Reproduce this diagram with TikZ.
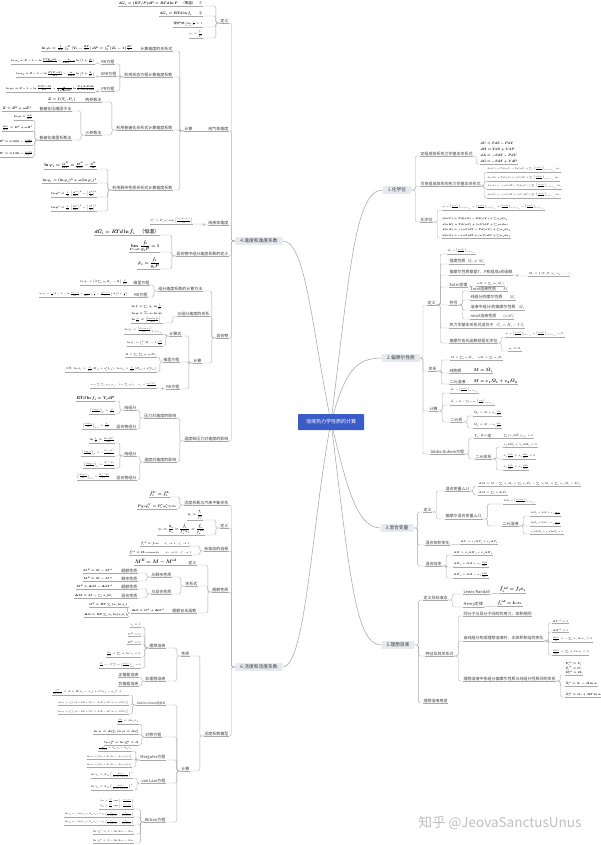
\RequirePackage{fix-cm}
\documentclass[tikz,border=0pt]{standalone}
\usepackage{amsmath}
\usepackage[no-math]{fontspec}
\setmainfont{Noto Sans CJK SC}
\usetikzlibrary{backgrounds}
\definecolor{rootblue}{HTML}{3B5CC6}
\definecolor{topicfill}{HTML}{E7E9F1}
\definecolor{linkgray}{HTML}{A8A8A8}
\definecolor{txtgray}{HTML}{3A3A3A}

\begin{document}
\begin{tikzpicture}[x=2pt,y=-2pt,
  link/.style={draw=linkgray,line width=0.8pt,rounded corners=3pt},
  branch/.style={draw=linkgray,line width=1.1pt},
  root/.style={fill=rootblue,text=white,rounded corners=1.5pt,minimum width=132pt,minimum height=32pt,font=\fontsize{10}{12}\selectfont},
  topic/.style={fill=topicfill,text=txtgray,rounded corners=1.5pt,inner xsep=10pt,inner ysep=3.5pt,font=\fontsize{9.5}{11}\selectfont},
  lbl/.style={inner sep=1pt,text=txtgray,font=\fontsize{8}{9.5}\selectfont,
    append after command={(\tikzlastnode.south west) edge[link] (\tikzlastnode.south east)}},
  rt/.style={lbl,anchor=south west},
  lt/.style={lbl,anchor=south east},
  f4/.style={font=\fontsize{4.5}{5.5}\selectfont,text=black},
  f4b/.style={font=\fontsize{5}{6}\selectfont\boldmath,text=black},
  f5/.style={font=\fontsize{5.5}{6.5}\selectfont,text=black},
  f5b/.style={font=\fontsize{5.5}{6.5}\selectfont\boldmath,text=black},
  fs/.style={font=\fontsize{7}{8.5}\selectfont\boldmath,text=black},
  fb/.style={font=\fontsize{8.5}{10}\selectfont\boldmath,text=black},
  fB/.style={font=\fontsize{10}{12}\selectfont\boldmath,text=black}]
\useasboundingbox (0,0) rectangle (600,845);

% root and main topics
\node[root] (ctr) at (331,422) {溶液热力学性质的计算};
\node[topic] (n1) at (397,190) {1.化学位};
\node[topic] (n2) at (401,358) {2.偏摩尔性质};
\node[topic] (n3) at (397,528) {3.混合变量};
\node[topic] (n5) at (398,645) {5.理想溶液};
\node[topic] (n4) at (259,241) {4.逸度和逸度系数};
\node[topic] (n6) at (259,667) {6.活度和活度系数};

\begin{scope}[on background layer]
\fill[white] (0,0) rectangle (600,845);
\draw[branch] (ctr.center) .. controls (350,270) and (355,190) .. (n1.west);
\draw[branch] (ctr.center) .. controls (345,372) and (355,358) .. (n2.west);
\draw[branch] (ctr.center) .. controls (345,478) and (355,528) .. (n3.west);
\draw[branch] (ctr.center) .. controls (350,575) and (355,645) .. (n5.west);
\draw[branch] (ctr.center) .. controls (312,330) and (306,241) .. (n4.east);
\draw[branch] (ctr.center) .. controls (312,520) and (306,667) .. (n6.east);
\end{scope}

% 1.化学位
\node[rt] (c1) at (420,156) {定组成体系热力学基本关系式};
\node[rt,align=left,font=\fontsize{6.5}{12}\selectfont\boldmath,text=black] (c1a) at (480,164) {$dU=TdS-PdV$\\$dH=TdS+VdP$\\$dA=-SdT-PdV$\\$dG=-SdT+VdP$};
\node[rt] (c2) at (420,186) {可变组成体系的热力学基本关系式};
\node[rt,f4] (c2a) at (487,172) {$d(nU)=Td(nS)-Pd(nV)+\sum_i\left(\frac{\partial(nU)}{\partial n_i}\right)_{nS,nV,n_{j\neq i}}dn_i$};
\node[rt,f4] (c2b) at (487,181) {$d(nH)=Td(nS)+(nV)dP+\sum_i\left(\frac{\partial(nH)}{\partial n_i}\right)_{nS,P,n_{j\neq i}}dn_i$};
\node[rt,f4] (c2c) at (487,189) {$d(nA)=-(nS)dT-Pd(nV)+\sum_i\left(\frac{\partial(nA)}{\partial n_i}\right)_{T,nV,n_{j\neq i}}dn_i$};
\node[rt,f4] (c2d) at (487,198) {$d(nG)=-(nS)dT+(nV)dP+\sum_i\left(\frac{\partial(nG)}{\partial n_i}\right)_{T,P,n_{j\neq i}}dn_i$};
\node[rt] (c3) at (420,222) {化学位};
\node[rt,f4] (c3a) at (442,210) {$\mu_i=\left(\frac{\partial(nU)}{\partial n_i}\right)_{nS,nV,n_{j\neq i}}=\left(\frac{\partial(nH)}{\partial n_i}\right)_{nS,P,n_{j\neq i}}=\left(\frac{\partial(nA)}{\partial n_i}\right)_{T,nV,n_{j\neq i}}=\left(\frac{\partial(nG)}{\partial n_i}\right)_{T,P,n_{j\neq i}}$};
\node[rt,align=left,font=\fontsize{5}{11.5}\selectfont\boldmath,text=black] (c3b) at (442,238) {$d(nU)=Td(nS)-Pd(nV)+\sum\mu_idn_i$\\$d(nH)=Td(nS)+(nV)dP+\sum\mu_idn_i$\\$d(nA)=-(nS)dT-Pd(nV)+\sum\mu_idn_i$\\$d(nG)=-(nS)dT+(nV)dP+\sum\mu_idn_i$};

% 2.偏摩尔性质
\node[rt] (p1) at (427,305) {定义};
\node[rt,f4] (p1a) at (447,254) {$\bar M_i=\left(\frac{\partial(nM)}{\partial n_i}\right)_{T,P,n_{j\neq i}}$};
\node[rt] (p1b) at (449,264) {强度性质\ \ $\bar M_i\neq M_i$};
\node[rt] (p1c) at (449,275) {偏摩尔性质都是T，P和组成x的函数};
\node[rt,f5] (p1c1) at (528,276) {$\bar M_i=f(T,P,x_1,x_2,\cdots)$};
\node[rt] (p1d) at (449,287) {Euler定理};
\node[rt,f5] (p1d1) at (476,286) {$nM=\sum_i(n_i\bar M_i)$};
\node[rt] (p1e) at (449,305) {符号};
\node[rt] (p1e1) at (470,291) {1mol溶液性质\hspace{14pt}$M$};
\node[rt] (p1e2) at (470,300) {纯组分的摩尔性质\hspace{14pt}$M_i$};
\node[rt] (p1e3) at (470,310) {溶液中组分i的偏摩尔性质\hspace{6pt}$\bar M_i$};
\node[rt] (p1e4) at (470,319) {nmol溶液性质\hspace{14pt}$(nM)$};
\node[rt] (p1f) at (449,328) {热力学基本关系式适合于\hspace{6pt}$\bar G_i=\bar H_i-T\bar S_i$};
\node[rt] (p1g) at (449,343) {偏摩尔吉氏函数就是化学位};
\node[rt,f4] (p1g1) at (505,337) {$\mu_i=\left(\frac{\partial(nG)}{\partial n_i}\right)_{T,P,n_{j\neq i}}=\left(\frac{\partial(nH)}{\partial n_i}\right)_{nS,P,n_{j\neq i}}=\bar G_i$};
\node[rt,f5] (p1g2) at (508,351) {$\mu_i\equiv\bar G_i$};
\node[rt] (p2) at (428,371) {关系};
\node[rt,f5] (p2a) at (450,360) {$M=\sum_i x_i\bar M_i,\quad nM=\sum_i n_i\bar M_i$};
\node[rt] (p2b) at (449,373) {纯物质};
\node[rt,fb] (p2b1) at (473,373) {$M=\bar M_i$};
\node[rt] (p2c) at (449,384) {二元溶液};
\node[rt,fb] (p2c1) at (473,384) {$M=x_1\bar M_1+x_2\bar M_2$};
\node[rt] (p3) at (429,411) {计算};
\node[rt,f4] (p3a) at (450,393) {$\bar M_i=\left(\frac{\partial(nM)}{\partial n_i}\right)_{T,P,n_{j\neq i}}$};
\node[rt,f4] (p3b) at (450,405) {$\bar M_i=M-\sum_{k\neq i}x_k\left(\frac{\partial M}{\partial x_k}\right)_{T,P,x_{j\neq i,k}}$};
\node[rt] (p3c) at (450,422) {二元系};
\node[rt,f5] (p3c1) at (473,416) {$\bar M_1=M+x_2\frac{dM}{dx_1}$};
\node[rt,f5] (p3c2) at (473,428) {$\bar M_2=M-x_1\frac{dM}{dx_1}$};
\node[rt] (p4) at (430,454) {Gibbs-Duhem方程};
\node[rt] (p4a) at (474,438) {T、P一定};
\node[rt,f5] (p4a1) at (503,438) {$\sum_i(x_id\bar M_i)_{T,P}=0$};
\node[rt] (p4b) at (475,459) {二元体系};
\node[rt,f5] (p4b1) at (503,447) {$x_1d\bar M_1+x_2d\bar M_2=0$};
\node[rt,f5] (p4b2) at (503,459) {$x_1\frac{d\bar M_1}{dx_1}+x_2\frac{d\bar M_2}{dx_1}=0$};
\node[rt,f5] (p4b3) at (503,470) {$x_1\frac{d\bar M_1}{dx_1}=x_2\frac{d\bar M_2}{dx_2}$};

% 3.混合变量
\node[rt] (m1) at (423,512) {定义};
\node[rt] (m1a) at (445,491) {混合变量$\Delta M$};
\node[rt,f5] (m1a1) at (478,486) {$\Delta M=M-\sum_ix_iM_i=\sum_ix_i\bar M_i-\sum_ix_iM_i=\sum_ix_i(\bar M_i-M_i)$};
\node[rt,f5] (m1a2) at (478,495) {$\Delta M=\sum_ix_i\Delta\bar M_i$};
\node[rt] (m1b) at (445,519) {偏摩尔混合变量$\Delta\bar M_i$};
\node[rt,f4] (m1b1) at (503,504) {$\Delta\bar M_i=\left(\frac{\partial(n\Delta M)}{\partial n_i}\right)_{T,P,n_{j\neq i}}$};
\node[rt] (m1b2) at (502,526) {二元溶液};
\node[rt,f4] (m1b2a) at (530,516) {$\Delta\bar M_1=\Delta M+x_2\frac{d\Delta M}{dx_1}$};
\node[rt,f4] (m1b2b) at (530,526) {$\Delta\bar M_2=\Delta M-x_1\frac{d\Delta M}{dx_1}$};
\node[rt,f4] (m1b2c) at (530,534) {$x_1d\Delta\bar M_1+x_2d\Delta\bar M_2=0$};
\node[rt] (m2) at (425,545) {混合体积变化};
\node[rt,f5] (m2a) at (460,544) {$\Delta V=x_1\Delta\bar V_1+x_2\Delta\bar V_2$};
\node[rt] (m3) at (425,566) {混合焓变};
\node[rt,f5] (m3a) at (453,555) {$\Delta H=x_1\Delta\bar H_1+x_2\Delta\bar H_2$};
\node[rt,f5] (m3b) at (453,567) {$\Delta\bar H_1=\Delta H+x_2\frac{d\Delta H}{dx_1}$};
\node[rt,f5] (m3c) at (453,578) {$\Delta\bar H_2=\Delta H-x_1\frac{d\Delta H}{dx_1}$};

% 5.理想溶液
\node[rt] (l1) at (423,600) {定义及标准态};
\node[rt] (l1a) at (463,594) {Lewis-Randall};
\node[rt,fB] (l1a1) at (499,593) {$\hat f_i^{\,id}=f_ix_i$};
\node[rt] (l1b) at (463,607) {Henry定律};
\node[rt,fb] (l1b1) at (497,606) {$\hat f_i^{\,id}=k_ix_i$};
\node[rt] (l2) at (425,656) {特征及其关系式};
\node[rt] (l2a) at (463,616) {同分子与异分子间的作用力、体积相同};
\node[rt] (l2b) at (463,641) {由纯组分构成理想溶液时，无体积和焓的变化};
\node[rt,f5] (l2b1) at (552,623) {$\Delta V^{id}=0$};
\node[rt,f5] (l2b2) at (552,632) {$\Delta H^{id}=0$};
\node[rt,f5] (l2b3) at (552,642) {$\frac{\Delta S^{id}}{R}=-\sum_ix_i\ln x_i>0$};
\node[rt,f5] (l2b4) at (552,655) {$\frac{\Delta G^{id}}{RT}=\sum_ix_i\ln x_i<0$};
\node[rt] (l2c) at (463,681) {理想溶液中各组分偏摩尔性质与纯组分性质间的关系};
\node[rt,align=left,font=\fontsize{5.5}{8.5}\selectfont\boldmath,text=black] (l2c1) at (565,675) {$\bar V_i^{id}=V_i$\\$\bar U_i^{id}=U_i$\\$\bar H_i^{id}=H_i$};
\node[rt,f5b] (l2c2) at (565,686) {$\bar S_i^{id}=S_i-R\ln x_i$};
\node[rt,f5b] (l2c3) at (565,697) {$\bar G_i^{id}=G_i+RT\ln x_i$};
\node[rt] (l3) at (423,703) {理想溶液用途};

% 4.逸度和逸度系数
\node[lt] (y1) at (229,23) {定义};
\node[lt,fs] (y1a) at (203,6) {$dG_i=(RT/P)dP=RTd\ln P$\quad（等温）\quad ①};
\node[lt,fs] (y1b) at (203,16) {$dG_i=RTd\ln f_i$\qquad ②};
\node[lt,f5] (y1c) at (203,27) {理想气体\ $\lim\limits_{P\to0}\frac{f_i}{P}=1$};
\node[lt,f5] (y1d) at (203,38) {$\varphi_i=\dfrac{f_i}{P}$};
\node[lt] (y2) at (229,131) {纯气体逸度};
\node[lt] (y2a) at (193,131) {计算};
\node[lt] (y2b) at (173,51) {计算逸度的关系式};
\node[lt,fs] (y2b1) at (133,51) {$\ln\varphi_i=\frac{1}{RT}\int_0^P\left(V_i-\frac{RT}{P}\right)dP=\int_0^P(Z_i-1)\frac{dP}{P}$};
\node[lt] (y2c) at (173,77) {利用状态方程计算逸度系数};
\node[lt] (y2c1) at (115,64) {RK方程};
\node[lt,f4b] (y2c1a) at (95,64) {$\ln\varphi_i=Z-1-\ln\frac{P(V-b)}{RT}-\frac{a}{bRT^{1.5}}\ln\left(1+\frac{b}{V}\right)$};
\node[lt] (y2c2) at (117,76) {SRK方程};
\node[lt,f4b] (y2c2a) at (95,77) {$\ln\varphi_i=Z-1-\ln\frac{P(V-b)}{RT}-\frac{a}{bRT}\ln\left(1+\frac{b}{V}\right)$};
\node[lt] (y2c3) at (115,91) {PR方程};
\node[lt,f4b] (y2c3a) at (95,92) {$\ln\varphi_i=Z-1-\ln\frac{P(V-b)}{RT}-\frac{a}{2\sqrt{2}bRT}\ln\frac{V+2.414b}{V-0.414b}$};
\node[lt] (y2d) at (173,130) {利用普遍化关系式计算逸度系数};
\node[lt] (y2d1) at (102,102) {两参数法};
\node[lt,fs] (y2d1a) at (76,102) {$Z=f(T_r,P_r)$};
\node[lt] (y2d2) at (102,135) {三参数法};
\node[lt] (y2d2a) at (72,111) {普遍化压缩因子法};
\node[lt,fs] (y2d2a1) at (32,111) {$Z=Z^0+\omega Z^1$};
\node[lt] (y2d2b) at (72,140) {普遍化维里系数法};
\node[lt,f5b] (y2d2b1) at (33,120) {$\ln\varphi=\frac{BP}{RT}$};
\node[lt,f5b] (y2d2b2) at (33,131) {$\frac{BP_c}{RT_c}=B^0+\omega B^1$};
\node[lt,f5b] (y2d2b3) at (33,145) {$B^0=0.083-\frac{0.422}{T_r^{1.6}}$};
\node[lt,f5b] (y2d2b4) at (33,157) {$B^1=0.139-\frac{0.172}{T_r^{4.2}}$};
\node[lt] (y2e) at (173,190) {利用剩余性质关系式计算逸度系数};
\node[lt,fb] (y2e1) at (97,169) {$\ln\varphi_i=\frac{G^R}{RT}=\frac{H^R}{RT}-\frac{S^R}{R}$};
\node[lt,fs] (y2e2) at (97,183) {$\ln\varphi_i=(\ln\varphi_i)^0+\omega(\ln\varphi_i)^1$};
\node[lt,f5b] (y2e3) at (97,197) {$\ln\varphi^0=\frac{1}{T_r}\left[\frac{H^R}{RT_c}\right]^0-\left[\frac{S^R}{R}\right]^0$};
\node[lt,f5b] (y2e4) at (97,211) {$\ln\varphi^1=\frac{1}{T_r}\left[\frac{H^R}{RT_c}\right]^1-\left[\frac{S^R}{R}\right]^1$};
\node[lt] (y3) at (229,225) {纯液体逸度};
\node[lt,f5] (y3a) at (193,224) {$f_i^L=P_i^s\varphi_i^s\exp\left[\frac{V_i^L(P-P_i^s)}{RT}\right]$};
\node[lt] (y4) at (229,256) {混合物中组分逸度系数的定义};
\node[lt,fB] (y4a) at (160,235) {$d\bar G_i=RTd\ln\hat f_i$\quad（恒温）};
\node[lt,fb] (y4b) at (160,252) {$\lim\limits_{P\to0}\dfrac{\hat f_i}{y_iP}=1$};
\node[lt,fb] (y4c) at (160,269) {$\hat\varphi_i=\dfrac{\hat f_i}{y_iP}$};
\node[lt] (y5) at (229,338) {混合物};
\node[lt] (y5a) at (203,291) {组分逸度系数的计算方法};
\node[lt] (y5a1) at (150,285) {维里方程};
\node[lt,f5] (y5a1a) at (128,285) {$\ln\hat\varphi_i=\left(2\sum_jy_jB_{ij}-B\right)\frac{P}{RT}$};
\node[lt] (y5a2) at (148,297) {RK方程};
\node[lt,f4] (y5a2a) at (128,297) {$\ln\hat\varphi_i=\frac{b_i}{b}(Z-1)-\ln\frac{P(V-b)}{RT}+\frac{a}{bRT^{1.5}}\left(\frac{b_i}{b}-\frac{2\sum_jy_ja_{ij}}{a}\right)\ln\left(1+\frac{b}{V}\right)$};
\node[lt] (y5b) at (210,316) {与组分逸度的关系};
\node[lt,align=left,font=\fontsize{5.5}{13}\selectfont\boldmath,text=black] (y5b1) at (163,323) {$\ln f=\sum_ix_i\ln\frac{\hat f_i}{x_i}$\\$\ln\varphi=\sum_ix_i\ln\hat\varphi_i$\\$\ln\frac{\hat f_i}{x_i}=\left[\frac{\partial(n\ln f)}{\partial n_i}\right]$};
\node[lt] (y5c) at (202,363) {计算};
\node[lt] (y5c1) at (182,336) {计算式};
\node[lt,f5] (y5c1a) at (163,334) {$\ln\hat\varphi_i=\left[\frac{\partial(n\ln\varphi)}{\partial n_i}\right]_{T,P,n_{j\neq i}}$};
\node[lt,f5] (y5c1b) at (163,346) {$\ln\hat\varphi_i=\int_0^P(\bar Z_i-1)\frac{dP}{P}$};
\node[lt] (y5c2) at (180,362) {维里方程};
\node[lt,f5] (y5c2a) at (157,357) {$B=\sum_i\sum_jy_iy_jB_{ij}$};
\node[lt,f5] (y5c2b) at (157,372) {二元：$\ln\hat\varphi_1=\frac{P}{RT}(B_{11}+y_2^2\delta_{12})$，$\ln\hat\varphi_2=\frac{P}{RT}(B_{22}+y_1^2\delta_{12})$};
\node[lt] (y5c3) at (180,389) {RK方程};
\node[lt,f4] (y5c3a) at (157,388) {$a=\sum_i\sum_jy_iy_ja_{ij},\quad b=\sum_iy_ib_i,\quad a_{ij}=\frac{\Omega_aR^2T_{cij}^{2.5}}{P_{cij}}$};
\node[lt] (y6) at (229,441) {温度和压力对逸度的影响};
\node[lt] (y6a) at (177,418) {压力对逸度的影响};
\node[lt] (y6a1) at (137,410) {纯组分};
\node[lt,fb] (y6a1a) at (115,401) {$RTd\ln f_i=V_idP$};
\node[lt,f5] (y6a1b) at (115,414) {$\left(\frac{\partial\ln f_i}{\partial P}\right)_T=\frac{V_i}{RT}$};
\node[lt] (y6a2) at (137,429) {混合物组分};
\node[lt,f5] (y6a2a) at (110,429) {$\left(\frac{\partial\ln\hat f_i}{\partial P}\right)_{T,x}=\frac{\bar V_i}{RT}$};
\node[lt] (y6b) at (177,462) {温度对逸度的影响};
\node[lt] (y6b1) at (137,456) {纯组分};
\node[lt,f5b] (y6b1a) at (115,443) {$\ln\frac{f_i}{P}=\frac{G_i-G_i^{ig}}{RT}$};
\node[lt,f5] (y6b1b) at (115,456) {$\left(\frac{\partial\ln f_i}{\partial T}\right)_P=-\frac{H_i-H_i^{ig}}{RT^2}$};
\node[lt,f5] (y6b1c) at (115,468) {$\left(\frac{\partial\ln\varphi_i}{\partial T}\right)_P=\frac{H_i^{ig}-H_i}{RT^2}$};
\node[lt] (y6b2) at (137,480) {混合物组分};
\node[lt,f5] (y6b2a) at (110,480) {$\left(\frac{\partial\ln\hat f_i}{\partial T}\right)_{P,x}=\frac{H_i^{ig}-\bar H_i}{RT^2}$};

% 6.活度和活度系数
\node[lt] (a1) at (229,505) {活度系数与汽液平衡关系};
\node[lt,fb] (a1a) at (170,497) {$\hat f_i^V=\hat f_i^L$};
\node[lt,fs] (a1b) at (177,509) {$Py_i\hat\varphi_i^V=P_i^s\varphi_i^s\gamma_ix_i$};
\node[lt] (a2) at (229,528) {定义};
\node[lt,f5b] (a2a) at (203,520) {$\hat a_i=\dfrac{\hat f_i}{f_i^0}$};
\node[lt,fs] (a2b) at (205,535) {$\gamma_i=\dfrac{\hat a_i}{x_i}=\dfrac{\hat f_i}{f_i^0x_i}=\dfrac{\hat f_i}{\hat f_i^{\,id}}$};
\node[lt] (a3) at (229,551) {标准态的选择};
\node[lt,f5] (a3a) at (190,546) {$x_i\to1,\ \gamma_i\to1$};
\node[lt,f5b] (a3a1) at (160,546) {$\hat f_i^{\,id}=f_ix_i$};
\node[lt,f5] (a3b) at (192,555) {$x_i\to0,\ \gamma_i^*\to1$};
\node[lt,f5b] (a3b1) at (160,555) {$\hat f_i^{\,id}=H_{i,\mathrm{solvent}}x_i$};
\node[lt] (a4) at (229,592) {超额性质};
\node[lt] (a4a) at (197,565) {定义};
\node[lt,fB] (a4a1) at (177,565) {$M^E=M-M^{id}$};
\node[lt] (a4b) at (198,586) {关系式};
\node[lt] (a4b1) at (172,577) {与剩余性质};
\node[lt] (a4b1a) at (138,573) {超额性质};
\node[lt,f5b] (a4b1a1) at (113,573) {$M^E=M-M^{id}$};
\node[lt] (a4b1b) at (138,581) {剩余性质};
\node[lt,f5b] (a4b1b1) at (113,581) {$M^R=M-M^{ig}$};
\node[lt] (a4b2) at (172,594) {与混合性质};
\node[lt] (a4b2a) at (138,589) {超额性质};
\node[lt,f5b] (a4b2a1) at (113,589) {$M^E=\Delta M-\Delta M^{id}$};
\node[lt] (a4b2b) at (138,598) {混合性质};
\node[lt,f5b] (a4b2b1) at (113,598) {$\Delta M=M-\sum_ix_iM_i$};
\node[lt] (a4c) at (197,613) {超额吉氏函数};
\node[lt,f5b] (a4c1) at (165,613) {$\Delta G=G^E+\Delta G^{id}$};
\node[lt,f5b] (a4c1a) at (128,607) {$G^E=RT\sum_i(x_i\ln\gamma_i)$};
\node[lt,f5b] (a4c1b) at (128,617) {$\Delta G=RT\sum_ix_i\ln(\gamma_ix_i)$};
\node[lt] (a5) at (229,736) {活度系数模型};
\node[lt] (a5a) at (190,656) {性质};
\node[lt] (a5a1) at (166,648) {理想溶液};
\node[lt,f5] (a5a1a) at (141,627) {$\gamma_i=1$};
\node[lt,f5] (a5a1b) at (141,636) {$V^E=0$};
\node[lt,f5] (a5a1c) at (141,644) {$H^E=0$};
\node[lt,f5] (a5a1d) at (141,657) {$\frac{G^E}{RT}=\sum_ix_i\ln\gamma_i=0$};
\node[lt,f4] (a5a1e) at (141,668) {$\frac{H^E}{RT}=-T\sum_ix_i\left(\frac{\partial\ln\gamma_i}{\partial T}\right)_{P,x}=0$};
\node[lt] (a5a2) at (166,681) {非理想溶液};
\node[lt] (a5a2a) at (139,677) {正偏差溶液};
\node[lt] (a5a2b) at (139,686) {负偏差溶液};
\node[lt] (a5b) at (190,771) {计算};
\node[lt,font=\fontsize{6}{7}\selectfont] (a5b1) at (166,705) {Redlich-Kister经验式};
\node[lt,f5] (a5b1a) at (129,695) {$\frac{G^E}{RTx_1x_2}=A+B(x_1-x_2)+C(x_1-x_2)^2+\cdots$};
\node[lt,f4] (a5b1b) at (129,705) {$\ln\gamma_1=x_2^2\left[(A+3B+5C)-4(B+4C)x_2+12Cx_2^2\right]$};
\node[lt,f4] (a5b1c) at (129,714) {$\ln\gamma_2=x_1^2\left[(A-3B+5C)+4(B-4C)x_1+12Cx_1^2\right]$};
\node[lt] (a5b2) at (162,737) {对称方程};
\node[lt,f5] (a5b2a) at (139,724) {$\frac{G^E}{RT}=Ax_1x_2$};
\node[lt,f5b] (a5b2b) at (139,734) {$\ln\gamma_1=Ax_2^2,\ \ln\gamma_2=Ax_1^2$};
\node[lt,f5b] (a5b2c) at (139,745) {$\ln\gamma_1^\infty=\ln\gamma_2^\infty=A$};
\node[lt] (a5b3) at (166,760) {Margules方程};
\node[lt,f4] (a5b3a) at (132,751) {$\frac{G^E}{x_1x_2RT}=A_{21}x_1+A_{12}x_2$};
\node[lt,f4] (a5b3b) at (132,759) {$\ln\gamma_1=[A_{12}+2(A_{21}-A_{12})x_1]x_2^2$};
\node[lt,f4] (a5b3c) at (132,767) {$\ln\gamma_2=[A_{21}+2(A_{12}-A_{21})x_2]x_1^2$};
\node[lt] (a5b4) at (166,783) {van Laar方程};
\node[lt,f5] (a5b4a) at (133,778) {$\ln\gamma_1=A_{12}\left(\frac{A_{21}x_2}{A_{12}x_1+A_{21}x_2}\right)^2$};
\node[lt,f5] (a5b4b) at (133,790) {$\ln\gamma_2=A_{21}\left(\frac{A_{12}x_1}{A_{12}x_1+A_{21}x_2}\right)^2$};
\node[lt] (a5b5) at (166,822) {Wilson方程};
\node[lt,align=left,font=\fontsize{4.5}{7}\selectfont,text=black] (a5b5a) at (134,809) {$\Lambda_{12}=\frac{V_2^L}{V_1^L}\exp\left(-\frac{\lambda_{12}-\lambda_{11}}{RT}\right)$\\$\Lambda_{21}=\frac{V_1^L}{V_2^L}\exp\left(-\frac{\lambda_{21}-\lambda_{22}}{RT}\right)$};
\node[lt,f4] (a5b5b) at (134,817) {$\ln\gamma_1=-\ln(x_1+\Lambda_{12}x_2)+x_2\left(\frac{\Lambda_{12}}{x_1+\Lambda_{12}x_2}-\frac{\Lambda_{21}}{x_2+\Lambda_{21}x_1}\right)$};
\node[lt,f4] (a5b5c) at (134,825) {$\ln\gamma_2=-\ln(x_2+\Lambda_{21}x_1)-x_1\left(\frac{\Lambda_{12}}{x_1+\Lambda_{12}x_2}-\frac{\Lambda_{21}}{x_2+\Lambda_{21}x_1}\right)$};
\node[lt,f5] (a5b5d) at (134,834) {$\ln\gamma_1^\infty=1-\ln\Lambda_{12}-\Lambda_{21}$};
\node[lt,f5] (a5b5e) at (134,843) {$\ln\gamma_2^\infty=1-\ln\Lambda_{21}-\Lambda_{12}$};

% watermark
\node[text=black!25,font=\fontsize{27}{30}\selectfont] (wm) at (500,823) {知乎 @JeovaSanctusUnus};

% connectors, right side
\foreach \c in {c1,c2,c3} \draw[link] (n1.east) -- ++(4,0) |- (\c.south west);
\draw[link] (c1.south east) -- ++(3,0) |- (c1a.south west);
\foreach \c in {c2a,c2b,c2c,c2d} \draw[link] (c2.south east) -- ++(3,0) |- (\c.south west);
\foreach \c in {c3a,c3b} \draw[link] (c3.south east) -- ++(4,0) |- (\c.south west);
\foreach \c in {p1,p2,p3,p4} \draw[link] (n2.east) -- ++(3,0) |- (\c.south west);
\foreach \c in {p1a,p1b,p1c,p1d,p1e,p1f,p1g} \draw[link] (p1.south east) -- ++(4,0) |- (\c.south west);
\draw[link] (p1c.south east) -- ++(4,0) |- (p1c1.south west);
\draw[link] (p1d.south east) -- ++(3,0) |- (p1d1.south west);
\foreach \c in {p1e1,p1e2,p1e3,p1e4} \draw[link] (p1e.south east) -- ++(4,0) |- (\c.south west);
\foreach \c in {p1g1,p1g2} \draw[link] (p1g.south east) -- ++(3,0) |- (\c.south west);
\foreach \c in {p2a,p2b,p2c} \draw[link] (p2.south east) -- ++(4,0) |- (\c.south west);
\draw[link] (p2b.south east) -- (p2b1.south west);
\draw[link] (p2c.south east) -- (p2c1.south west);
\foreach \c in {p3a,p3b,p3c} \draw[link] (p3.south east) -- ++(4,0) |- (\c.south west);
\foreach \c in {p3c1,p3c2} \draw[link] (p3c.south east) -- ++(4,0) |- (\c.south west);
\foreach \c in {p4a,p4b} \draw[link] (p4.south east) -- ++(4,0) |- (\c.south west);
\draw[link] (p4a.south east) -- (p4a1.south west);
\foreach \c in {p4b1,p4b2,p4b3} \draw[link] (p4b.south east) -- ++(4,0) |- (\c.south west);
\foreach \c in {m1,m2,m3} \draw[link] (n3.east) -- ++(4,0) |- (\c.south west);
\foreach \c in {m1a,m1b} \draw[link] (m1.south east) -- ++(4,0) |- (\c.south west);
\foreach \c in {m1a1,m1a2} \draw[link] (m1a.south east) -- ++(3,0) |- (\c.south west);
\foreach \c in {m1b1,m1b2} \draw[link] (m1b.south east) -- ++(4,0) |- (\c.south west);
\foreach \c in {m1b2a,m1b2b,m1b2c} \draw[link] (m1b2.south east) -- ++(4,0) |- (\c.south west);
\draw[link] (m2.south east) -- (m2a.south west);
\foreach \c in {m3a,m3b,m3c} \draw[link] (m3.south east) -- ++(4,0) |- (\c.south west);
\foreach \c in {l1,l2,l3} \draw[link] (n5.east) -- ++(4,0) |- (\c.south west);
\foreach \c in {l1a,l1b} \draw[link] (l1.south east) -- ++(4,0) |- (\c.south west);
\draw[link] (l1a.south east) -- (l1a1.south west);
\draw[link] (l1b.south east) -- (l1b1.south west);
\foreach \c in {l2a,l2b,l2c} \draw[link] (l2.south east) -- ++(4,0) |- (\c.south west);
\foreach \c in {l2b1,l2b2,l2b3,l2b4} \draw[link] (l2b.south east) -- ++(4,0) |- (\c.south west);
\foreach \c in {l2c1,l2c2,l2c3} \draw[link] (l2c.south east) -- ++(4,0) |- (\c.south west);

% connectors, left side
\foreach \c in {y1,y2,y3,y4,y5,y6} \draw[link] (n4.west) -- ++(-4,0) |- (\c.south east);
\foreach \c in {y1a,y1b,y1c,y1d} \draw[link] (y1.south west) -- ++(-4,0) |- (\c.south east);
\draw[link] (y2.south west) -- (y2a.south east);
\foreach \c in {y2b,y2c,y2d,y2e} \draw[link] (y2a.south west) -- ++(-4,0) |- (\c.south east);
\draw[link] (y2b.south west) -- (y2b1.south east);
\foreach \c in {y2c1,y2c2,y2c3} \draw[link] (y2c.south west) -- ++(-4,0) |- (\c.south east);
\draw[link] (y2c1.south west) -- ++(-3,0) |- (y2c1a.south east);
\draw[link] (y2c2.south west) -- ++(-3,0) |- (y2c2a.south east);
\draw[link] (y2c3.south west) -- ++(-3,0) |- (y2c3a.south east);
\foreach \c in {y2d1,y2d2} \draw[link] (y2d.south west) -- ++(-4,0) |- (\c.south east);
\draw[link] (y2d1.south west) -- (y2d1a.south east);
\foreach \c in {y2d2a,y2d2b} \draw[link] (y2d2.south west) -- ++(-4,0) |- (\c.south east);
\draw[link] (y2d2a.south west) -- (y2d2a1.south east);
\foreach \c in {y2d2b1,y2d2b2,y2d2b3,y2d2b4} \draw[link] (y2d2b.south west) -- ++(-4,0) |- (\c.south east);
\foreach \c in {y2e1,y2e2,y2e3,y2e4} \draw[link] (y2e.south west) -- ++(-4,0) |- (\c.south east);
\draw[link] (y3.south west) -- ++(-4,0) |- (y3a.south east);
\foreach \c in {y4a,y4b,y4c} \draw[link] (y4.south west) -- ++(-4,0) |- (\c.south east);
\foreach \c in {y5a,y5b,y5c} \draw[link] (y5.south west) -- ++(-4,0) |- (\c.south east);
\foreach \c in {y5a1,y5a2} \draw[link] (y5a.south west) -- ++(-4,0) |- (\c.south east);
\draw[link] (y5a1.south west) -- (y5a1a.south east);
\draw[link] (y5a2.south west) -- (y5a2a.south east);
\draw[link] (y5b.south west) -- ++(-4,0) |- (y5b1.south east);
\foreach \c in {y5c1,y5c2,y5c3} \draw[link] (y5c.south west) -- ++(-4,0) |- (\c.south east);
\foreach \c in {y5c1a,y5c1b} \draw[link] (y5c1.south west) -- ++(-3,0) |- (\c.south east);
\foreach \c in {y5c2a,y5c2b} \draw[link] (y5c2.south west) -- ++(-3,0) |- (\c.south east);
\draw[link] (y5c3.south west) -- ++(-3,0) |- (y5c3a.south east);
\foreach \c in {y6a,y6b} \draw[link] (y6.south west) -- ++(-4,0) |- (\c.south east);
\foreach \c in {y6a1,y6a2} \draw[link] (y6a.south west) -- ++(-4,0) |- (\c.south east);
\foreach \c in {y6a1a,y6a1b} \draw[link] (y6a1.south west) -- ++(-4,0) |- (\c.south east);
\draw[link] (y6a2.south west) -- (y6a2a.south east);
\foreach \c in {y6b1,y6b2} \draw[link] (y6b.south west) -- ++(-4,0) |- (\c.south east);
\foreach \c in {y6b1a,y6b1b,y6b1c} \draw[link] (y6b1.south west) -- ++(-4,0) |- (\c.south east);
\draw[link] (y6b2.south west) -- (y6b2a.south east);
\foreach \c in {a1,a2,a3,a4,a5} \draw[link] (n6.west) -- ++(-4,0) |- (\c.south east);
\foreach \c in {a1a,a1b} \draw[link] (a1.south west) -- ++(-4,0) |- (\c.south east);
\foreach \c in {a2a,a2b} \draw[link] (a2.south west) -- ++(-4,0) |- (\c.south east);
\foreach \c in {a3a,a3b} \draw[link] (a3.south west) -- ++(-4,0) |- (\c.south east);
\draw[link] (a3a.south west) -- (a3a1.south east);
\draw[link] (a3b.south west) -- (a3b1.south east);
\foreach \c in {a4a,a4b,a4c} \draw[link] (a4.south west) -- ++(-4,0) |- (\c.south east);
\draw[link] (a4a.south west) -- (a4a1.south east);
\foreach \c in {a4b1,a4b2} \draw[link] (a4b.south west) -- ++(-4,0) |- (\c.south east);
\foreach \c in {a4b1a,a4b1b} \draw[link] (a4b1.south west) -- ++(-4,0) |- (\c.south east);
\draw[link] (a4b1a.south west) -- (a4b1a1.south east);
\draw[link] (a4b1b.south west) -- (a4b1b1.south east);
\foreach \c in {a4b2a,a4b2b} \draw[link] (a4b2.south west) -- ++(-4,0) |- (\c.south east);
\draw[link] (a4b2a.south west) -- (a4b2a1.south east);
\draw[link] (a4b2b.south west) -- (a4b2b1.south east);
\draw[link] (a4c.south west) -- (a4c1.south east);
\foreach \c in {a4c1a,a4c1b} \draw[link] (a4c1.south west) -- ++(-4,0) |- (\c.south east);
\foreach \c in {a5a,a5b} \draw[link] (a5.south west) -- ++(-4,0) |- (\c.south east);
\foreach \c in {a5a1,a5a2} \draw[link] (a5a.south west) -- ++(-4,0) |- (\c.south east);
\foreach \c in {a5a1a,a5a1b,a5a1c,a5a1d,a5a1e} \draw[link] (a5a1.south west) -- ++(-4,0) |- (\c.south east);
\foreach \c in {a5a2a,a5a2b} \draw[link] (a5a2.south west) -- ++(-3,0) |- (\c.south east);
\foreach \c in {a5b1,a5b2,a5b3,a5b4,a5b5} \draw[link] (a5b.south west) -- ++(-4,0) |- (\c.south east);
\foreach \c in {a5b1a,a5b1b,a5b1c} \draw[link] (a5b1.south west) -- ++(-4,0) |- (\c.south east);
\foreach \c in {a5b2a,a5b2b,a5b2c} \draw[link] (a5b2.south west) -- ++(-3,0) |- (\c.south east);
\foreach \c in {a5b3a,a5b3b,a5b3c} \draw[link] (a5b3.south west) -- ++(-4,0) |- (\c.south east);
\foreach \c in {a5b4a,a5b4b} \draw[link] (a5b4.south west) -- ++(-4,0) |- (\c.south east);
\foreach \c in {a5b5a,a5b5b,a5b5c,a5b5d,a5b5e} \draw[link] (a5b5.south west) -- ++(-4,0) |- (\c.south east);
\end{tikzpicture}
\end{document}
